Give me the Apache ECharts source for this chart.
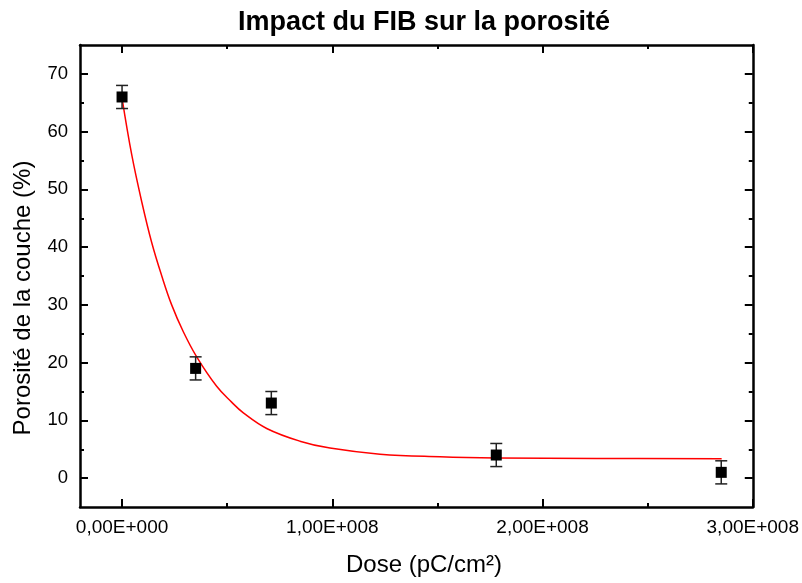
<!DOCTYPE html>
<html>
<head>
<meta charset="utf-8">
<script src="https://cdn.jsdelivr.net/npm/echarts@6/dist/echarts.min.js"></script>
<style>
  html, body { margin: 0; padding: 0; background: #fff; }
  #chart { width: 802px; height: 583px; }
</style>
</head>
<body>
<div id="chart"></div>
<script>
// mesures
const doses = [0, 3.5e7, 7.1e7, 1.78e8, 2.85e8];
const porosite = [66, 19, 13, 4, 1];
const erreurs = [2, 2, 2, 2, 2];

// courbe d'ajustement
const fitDoses = [0, 0.046e8, 0.094e8, 0.141e8, 0.189e8, 0.236e8, 0.292e8, 0.355e8, 0.45e8,
  0.52e8, 0.577e8, 0.688e8, 0.846e8, 0.989e8, 1.227e8, 1.512e8, 1.78e8, 2.257e8, 2.852e8];
const fitPorosite = [65.8, 56.0, 47.8, 40.8, 35.0, 30.0, 25.3, 21.0, 15.9,
  13.2, 11.3, 8.6, 6.4, 5.2, 4.15, 3.7, 3.5, 3.4, 3.35];

// graduations
const xTicks = [0, 1e8, 2e8, 3e8];
const xMinorTicks = [5e7, 1.5e8, 2.5e8];
const yTicks = [0, 10, 20, 30, 40, 50, 60, 70];
const yMinorTicks = [5, 15, 25, 35, 45, 55, 65];

const font = 'Liberation Sans, Arial, sans-serif';

function sci(v) {
  if (v === 0) return '0,00E+000';
  let e = Math.floor(Math.log10(Math.abs(v)));
  let m = v / Math.pow(10, e);
  return m.toFixed(2).replace('.', ',') + 'E+' + String(e).padStart(3, '0');
}

function axis(dim, position, ticks, len, withLine, withLabels) {
  return {
    type: 'value',
    position: position,
    min: dim === 'x' ? -2e7 : -5,
    max: dim === 'x' ? 3e8 : 75,
    splitLine: { show: false },
    axisLine: { show: withLine, onZero: false, lineStyle: { color: '#000', width: 2.5 } },
    axisTick: {
      show: true,
      inside: true,
      length: len,
      customValues: ticks,
      lineStyle: { color: '#000', width: 2 }
    },
    axisLabel: {
      show: withLabels,
      customValues: ticks,
      color: '#000',
      fontFamily: font,
      fontSize: dim === 'x' ? 19 : 18.5,
      margin: dim === 'x' ? 11 : 12,
      formatter: dim === 'x' ? sci : null
    }
  };
}

let chart = echarts.init(document.getElementById('chart'));

chart.setOption({
  backgroundColor: '#fff',
  animation: false,
  title: {
    text: 'Impact du FIB sur la porosité',
    left: 419,
    top: 4,
    textAlign: 'center',
    textStyle: { color: '#000', fontFamily: font, fontSize: 27, fontWeight: 'bold' }
  },
  grid: { left: 80, right: 48, top: 45, bottom: 76 },
  xAxis: [
    axis('x', 'bottom', xTicks, 8, true, true),
    axis('x', 'bottom', xMinorTicks, 4, false, false),
    axis('x', 'top', xTicks, 8, true, false),
    axis('x', 'top', xMinorTicks, 4, false, false)
  ],
  yAxis: [
    axis('y', 'left', yTicks, 8, true, true),
    axis('y', 'left', yMinorTicks, 4, false, false),
    axis('y', 'right', yTicks, 8, true, false),
    axis('y', 'right', yMinorTicks, 4, false, false)
  ],
  graphic: [
    {
      type: 'text',
      x: 424,
      y: 565,
      style: {
        text: 'Dose (pC/cm²)',
        fill: '#000',
        font: '24px ' + font,
        align: 'center',
        verticalAlign: 'middle'
      }
    },
    {
      type: 'text',
      x: 23,
      y: 298,
      rotation: Math.PI / 2,
      style: {
        text: 'Porosité de la couche (%)',
        fill: '#000',
        font: '24px ' + font,
        align: 'center',
        verticalAlign: 'middle'
      }
    }
  ],
  series: [
    {
      type: 'line',
      data: fitDoses.map((d, i) => [d, fitPorosite[i]]),
      smooth: 0.4,
      showSymbol: false,
      lineStyle: { color: '#ff0000', width: 1.5 },
      z: 2
    },
    {
      type: 'custom',
      data: doses.map((d, i) => [d, porosite[i] - erreurs[i], porosite[i] + erreurs[i]]),
      renderItem: function (params, api) {
        let lo = api.coord([api.value(0), api.value(1)]);
        let hi = api.coord([api.value(0), api.value(2)]);
        let w = 6;
        let style = { stroke: '#222', lineWidth: 1.5 };
        return {
          type: 'group',
          children: [
            { type: 'line', shape: { x1: lo[0], y1: lo[1], x2: hi[0], y2: hi[1] }, style: style },
            { type: 'line', shape: { x1: lo[0] - w, y1: lo[1], x2: lo[0] + w, y2: lo[1] }, style: style },
            { type: 'line', shape: { x1: hi[0] - w, y1: hi[1], x2: hi[0] + w, y2: hi[1] }, style: style }
          ]
        };
      },
      z: 3
    },
    {
      type: 'scatter',
      data: doses.map((d, i) => [d, porosite[i]]),
      symbol: 'rect',
      symbolSize: 11,
      itemStyle: { color: '#000', opacity: 1 },
      z: 4
    }
  ]
});
</script>
</body>
</html>
